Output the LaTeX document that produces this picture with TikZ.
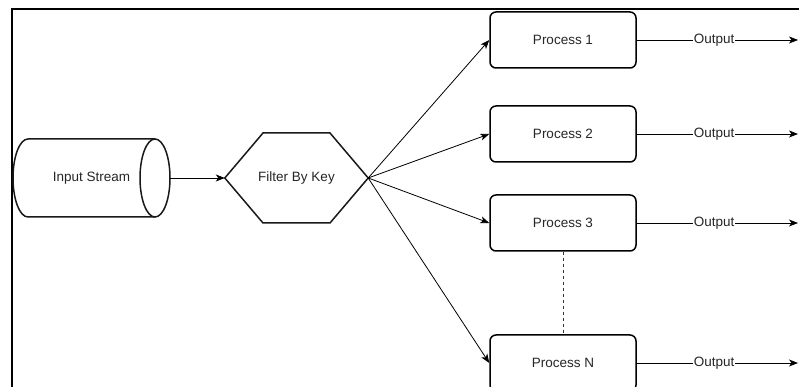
\documentclass[tikz,border=0pt]{standalone}
\usepackage{fontspec}
\setmainfont{Liberation Sans}
\usetikzlibrary{arrows.meta}
\begin{document}
\begin{tikzpicture}[x=1pt,y=1pt,
  every node/.style={font=\fontsize{13.5}{16}\selectfont, text=black!85},
  outline/.style={line width=1.5pt, black!90},
  procbox/.style={draw, line width=1.5pt, rounded corners=6pt, minimum width=146pt, minimum height=56pt, fill=white, inner sep=0pt},
  link/.style={line width=0.8pt, -{Stealth[length=9pt,width=7pt,inset=2.5pt]}},
  outlabel/.style={fill=white, inner sep=1pt, pos=0.48}
]
\useasboundingbox (0,0) rectangle (799,387);
\clip (0,0) rectangle (799,387);

% outer frame (only the left and top edges fall inside the page)
\draw[line width=1.6pt] (12,-20) -- (12,378) -- (820,378);

% input stream: a cylinder lying on its side
\node[minimum width=157pt, minimum height=78pt, inner sep=0pt] (input) at (91.5,209) {};
\draw[outline, fill=white] (155,248) -- (28,248)
  arc[start angle=90, end angle=270, x radius=15, y radius=39] -- (155,170);
\draw[outline, fill=white] (155,209) ellipse[x radius=15, y radius=39];
\node at (91.5,209) {Input Stream};

% filter: a stretched hexagon
\node[minimum width=143pt, minimum height=90pt, inner sep=0pt] (filter) at (296.5,209) {Filter By Key};
\draw[outline, line join=miter] (filter.west) -- (263,254) -- (330,254) -- (filter.east)
  -- (330,164) -- (263,164) -- cycle;

% processes
\node[procbox] (p1) at (563,347) {Process 1};
\node[procbox] (p2) at (563,253) {Process 2};
\node[procbox] (p3) at (563,164) {Process 3};
\node[procbox] (pn) at (563,24) {Process N};

% output ends
\coordinate (o1) at (798,347);
\coordinate (o2) at (798,253);
\coordinate (o3) at (798,164);
\coordinate (on) at (798,24);

% connectors
\draw[link] (input.east) -- (filter.west);
\foreach \p in {p1,p2,p3,pn}
  \draw[link] (filter.east) -- (\p.west);
\draw[link] (p1.east) -- node[outlabel] {Output} (o1);
\draw[link] (p2.east) -- node[outlabel] {Output} (o2);
\draw[link] (p3.east) -- node[outlabel] {Output} (o3);
\draw[link] (pn.east) -- node[outlabel] {Output} (on);
\draw[line width=0.9pt, black!80, dash pattern=on 3pt off 3pt] (p3.south) -- (pn.north);
\end{tikzpicture}
\end{document}
